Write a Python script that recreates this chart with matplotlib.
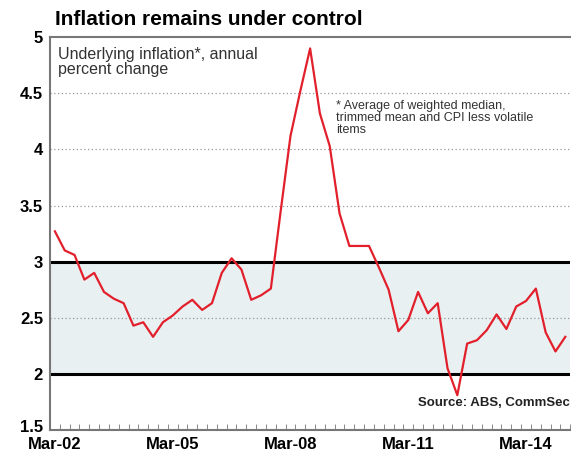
import numpy as np
import matplotlib.pyplot as plt
import matplotlib.transforms as mtransforms

plt.rcParams['font.family'] = ['Liberation Sans', 'DejaVu Sans']

# underlying inflation, annual % change, quarterly Mar-02 .. Mar-15
quarters = [f"{m}-{y:02d}" for y in range(2, 16) for m in ['Mar', 'Jun', 'Sep', 'Dec']][:53]
inflation = [3.27, 3.10, 3.06, 2.84, 2.90, 2.73, 2.67, 2.63, 2.43, 2.46,
             2.33, 2.46, 2.52, 2.60, 2.66, 2.57, 2.63, 2.90, 3.03, 2.93,
             2.66, 2.70, 2.76, 3.45, 4.12, 4.52, 4.90, 4.32, 4.03, 3.43,
             3.14, 3.14, 3.14, 2.95, 2.75, 2.38, 2.48, 2.73, 2.54, 2.63,
             2.05, 1.81, 2.27, 2.30, 2.39, 2.53, 2.40, 2.60, 2.65, 2.76,
             2.37, 2.20, 2.33]
tick_labels = ['Mar-02', 'Mar-05', 'Mar-08', 'Mar-11', 'Mar-14']
y_ticks = [1.5, 2, 2.5, 3, 3.5, 4, 4.5, 5]
target_band = (2, 3)

fig = plt.figure(figsize=(5.71, 4.53), dpi=100)
ax = fig.add_axes([0.0876, 0.0508, 0.911, 0.867])

x = np.arange(len(inflation))

# target band + grid
ax.axhspan(target_band[0], target_band[1], color='#e9f0f2', zorder=0)
for g in [2.5, 3.5, 4, 4.5]:
    ax.axhline(g, color='#999999', lw=0.9, ls=(0, (1, 2)), zorder=1)
for g in target_band:
    ax.axhline(g, color='black', lw=2.2, zorder=2)

ax.plot(x, inflation, color='#e2202c', lw=1.6, zorder=3)

ax.set_xlim(-0.5, len(inflation) - 0.5)
ax.set_ylim(1.5, 5)
ax.set_yticks(y_ticks)
ax.set_yticklabels(['1.5', '2', '2.5', '3', '3.5', '4', '4.5', '5'],
                   fontsize=12, fontweight='bold')
ax.set_xticks([quarters.index(t) for t in tick_labels])
ax.set_xticklabels(tick_labels, fontsize=12, fontweight='bold')
ax.set_xticks(np.arange(-0.5, len(inflation), 1), minor=True)
ax.tick_params(axis='x', which='major', length=0, pad=5)
ax.tick_params(axis='x', which='minor', direction='in', length=4, color='#777777')
ax.tick_params(axis='y', length=0, pad=5)

# nudge the bottom y label up so it clears Mar-02
lbl = ax.get_yticklabels()[0]
lbl.set_transform(lbl.get_transform() + mtransforms.ScaledTranslation(0, 3 / 72, fig.dpi_scale_trans))

for s in ['left', 'top', 'bottom']:
    ax.spines[s].set_color('#777777')
    ax.spines[s].set_linewidth(1.5)
ax.spines['right'].set_visible(False)

fig.text(0.096, 0.958, 'Inflation remains under control', fontsize=15,
         fontweight='bold', va='center', ha='left')
ax.text(0.015, 0.975, 'Underlying inflation*, annual\npercent change',
        transform=ax.transAxes, fontsize=11.5, color='#333333', va='top',
        linespacing=1.0)
ax.text(0.55, 0.84, '* Average of weighted median,\ntrimmed mean and CPI less volatile\nitems',
        transform=ax.transAxes, fontsize=9, color='#333333', va='top',
        linespacing=1.0)
ax.text(1.0, 0.068, 'Source: ABS, CommSec', transform=ax.transAxes,
        fontsize=9.5, fontweight='bold', color='#222222', ha='right', va='center')

fig.savefig('out.png', dpi=100)
